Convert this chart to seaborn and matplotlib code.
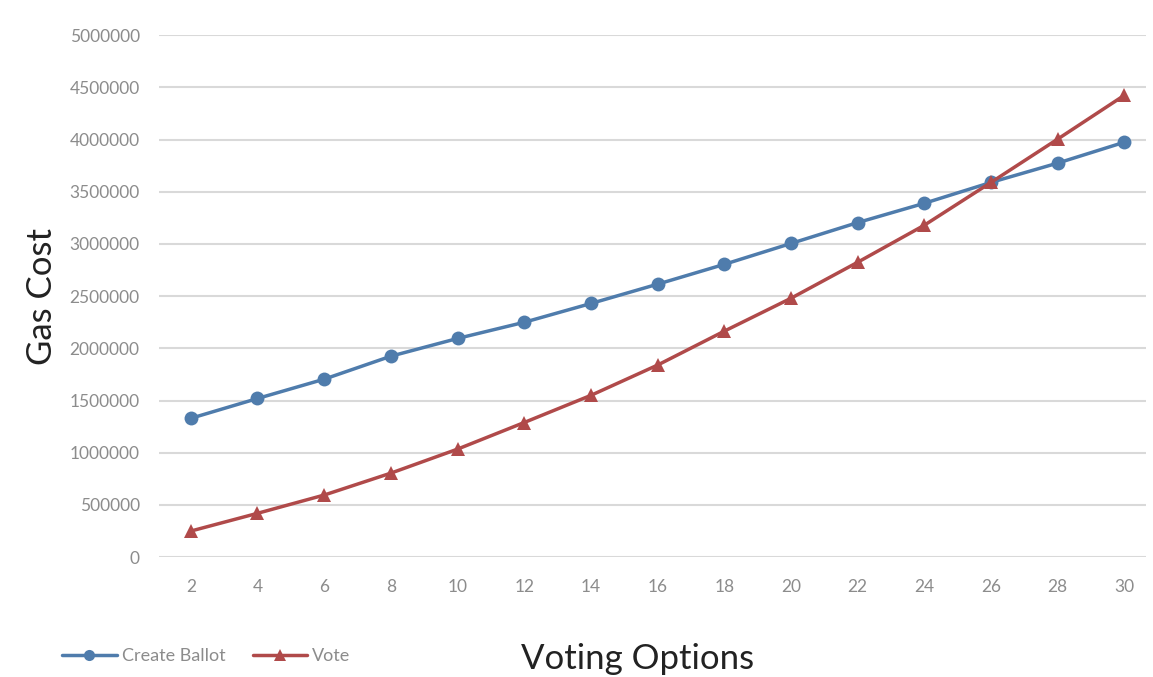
import matplotlib
matplotlib.use('Agg')
import matplotlib.pyplot as plt
import pandas as pd
import seaborn as sns
from matplotlib.lines import Line2D

# data
voting_options = [2, 4, 6, 8, 10, 12, 14, 16, 18, 20, 22, 24, 26, 28, 30]
create_ballot = [1330000, 1520000, 1705000, 1925000, 2095000, 2250000, 2430000, 2615000,
                 2805000, 3005000, 3205000, 3390000, 3590000, 3775000, 3975000]
vote = [250000, 420000, 595000, 805000, 1035000, 1290000, 1550000, 1840000,
        2165000, 2480000, 2825000, 3180000, 3590000, 4005000, 4425000]
y_ticks = list(range(0, 5000001, 500000))

df = pd.DataFrame({
    'Voting Options': voting_options * 2,
    'Gas Cost': create_ballot + vote,
    'series': ['Create Ballot'] * len(voting_options) + ['Vote'] * len(voting_options),
})

sns.set_style('white')
plt.rcParams['font.family'] = ['Lato', 'DejaVu Sans']

fig = plt.figure(figsize=(11.53, 6.77), dpi=100)
ax = fig.add_axes([0.138, 0.177, 0.856, 0.771])

palette = {'Create Ballot': '#4f7cac', 'Vote': '#b04a4a'}
sns.lineplot(data=df, x='Voting Options', y='Gas Cost', hue='series', style='series',
             markers={'Create Ballot': 'o', 'Vote': '^'}, dashes=False,
             palette=palette, linewidth=2.5, markersize=10, markeredgewidth=0,
             ax=ax, legend=False)

ax.set_xlim(1.05, 30.65)
ax.set_ylim(0, 5000000)
ax.set_xticks(voting_options)
ax.set_xticklabels([str(v) for v in voting_options])
ax.set_yticks(y_ticks)
ax.set_yticklabels([str(v) for v in y_ticks])
ax.yaxis.grid(True, color='#d9d9d9', linewidth=1.5)
ax.set_axisbelow(True)
for s in ax.spines.values():
    s.set_visible(False)
ax.tick_params(axis='both', length=0, labelsize=12.5, labelcolor='#8c8c8c')
ax.tick_params(axis='x', pad=16)
ax.tick_params(axis='y', pad=14)

ax.set_xlabel('')
ax.set_ylabel('Gas Cost', fontsize=25, color='#222222', labelpad=8)
fig.text(0.553, 0.012, 'Voting Options', fontsize=25, color='#222222', ha='center')

# legend at bottom left
handles = [Line2D([], [], color=palette['Create Ballot'], marker='o', lw=2.5, ms=8, mew=0),
           Line2D([], [], color=palette['Vote'], marker='^', lw=2.5, ms=8, mew=0)]
fig.legend(handles, ['Create Ballot', 'Vote'], loc='lower left', bbox_to_anchor=(0.04, -0.005),
           ncol=2, frameon=False, fontsize=13, labelcolor='#8c8c8c',
           handlelength=3, columnspacing=1.5, handletextpad=0.3)

fig.savefig('out.png', dpi=100)
